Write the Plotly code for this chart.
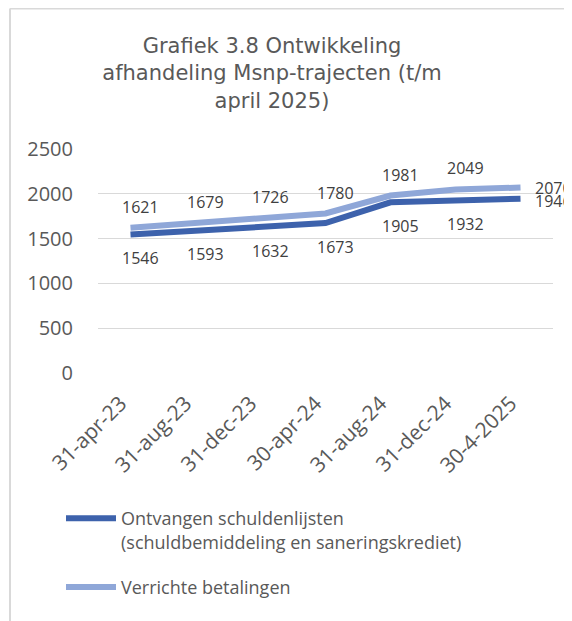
import plotly.graph_objects as go

# ---- data ----
categories = ["31-apr-23", "31-aug-23", "31-dec-23", "30-apr-24",
              "31-aug-24", "31-dec-24", "30-4-2025"]
ontvangen = [1546, 1593, 1632, 1673, 1905, 1932, 1946]
betalingen = [1621, 1679, 1726, 1780, 1981, 2049, 2070]
y_ticks = [0, 500, 1000, 1500, 2000, 2500]
name_ontvangen = "Ontvangen schuldenlijsten<br>(schuldbemiddeling en saneringskrediet)"
name_betalingen = "Verrichte betalingen"
title_text = "Grafiek 3.8 Ontwikkeling<br>afhandeling Msnp-trajecten (t/m<br>april 2025)"

# ---- styles ----
DARK = "#3D62AC"
LIGHT = "#8FA7D8"
GREY_TXT = "#595959"
LABEL_TXT = "#404040"
GRID = "#D9D9D9"
SANS = "Open Sans, Noto Sans, sans-serif"

# the page body adds an 8px offset; figure is sized to fill the rest of the window
W, H = 564, 613
L, R, T, B = 90, 19, 141, 248

fig = go.Figure()
fig.add_trace(go.Scatter(x=categories, y=ontvangen, name=name_ontvangen, legendgroup="a",
                         mode="lines", line=dict(color=DARK, width=6)))
fig.add_trace(go.Scatter(x=categories, y=betalingen, name=name_betalingen, legendgroup="b",
                         mode="lines", line=dict(color=LIGHT, width=6)))

annotations = []
n = len(categories)
for i in range(n):
    last = i == n - 1
    for vals, up in ((betalingen, True), (ontvangen, False)):
        v = vals[i]
        if last:
            annotations.append(dict(x=categories[i], y=v, text=str(v), showarrow=False,
                                    xanchor="left", yanchor="middle", xshift=12,
                                    yshift=0 if up else -2,
                                    font=dict(family=SANS, size=16, color=LABEL_TXT)))
        else:
            annotations.append(dict(x=categories[i], y=v, text=str(v), showarrow=False,
                                    xanchor="center", yanchor="middle", xshift=10,
                                    yshift=21 if up else -24,
                                    font=dict(family=SANS, size=16, color=LABEL_TXT)))

pw = W - L - R
ph = H - T - B
x0 = (2 - L) / pw
x1 = (W + 5 - L) / pw
ytop = (H - B - 0.5) / ph
ybot = (H - B - (H + 5)) / ph
shapes = [
    dict(type="line", xref="paper", yref="paper", x0=x0, x1=x0, y0=ybot, y1=ytop,
         line=dict(color=GRID, width=2)),
    dict(type="line", xref="paper", yref="paper", x0=x0, x1=x1, y0=ytop, y1=ytop,
         line=dict(color=GRID, width=2)),
]

fig.update_layout(
    width=W, height=H,
    margin=dict(l=L, r=R, t=T, b=B, autoexpand=False),
    paper_bgcolor="white", plot_bgcolor="white",
    title=dict(text=title_text, x=264 / W, xanchor="center", xref="container",
               y=1 - 45 / H, yanchor="top", yref="container", automargin=False,
               font=dict(family="DejaVu Sans, Verdana, sans-serif", size=21, color=GREY_TXT)),
    xaxis=dict(type="category", range=[-0.5, n - 0.5], showgrid=False, zeroline=False,
               showline=False, ticks="", tickangle=-45, automargin=False,
               ticklabelstandoff=13, ticklabelshift=-10,
               tickfont=dict(family=SANS, size=21, color=GREY_TXT)),
    yaxis=dict(range=[0, 2500], tickvals=y_ticks, showgrid=True, gridcolor=GRID,
               gridwidth=1.3, zeroline=False, showline=False, ticks="",
               ticklabelstandoff=24, automargin=False,
               tickfont=dict(family=SANS, size=20, color=GREY_TXT)),
    legend=dict(x=53 / W, y=1 - 492 / H, xref="container", yref="container",
                xanchor="left", yanchor="top",
                orientation="v", valign="top", tracegroupgap=19,
                font=dict(family=SANS, size=18, color=GREY_TXT), itemwidth=50),
    showlegend=True,
    annotations=annotations,
    shapes=shapes,
)

fig.write_html("out.html")
